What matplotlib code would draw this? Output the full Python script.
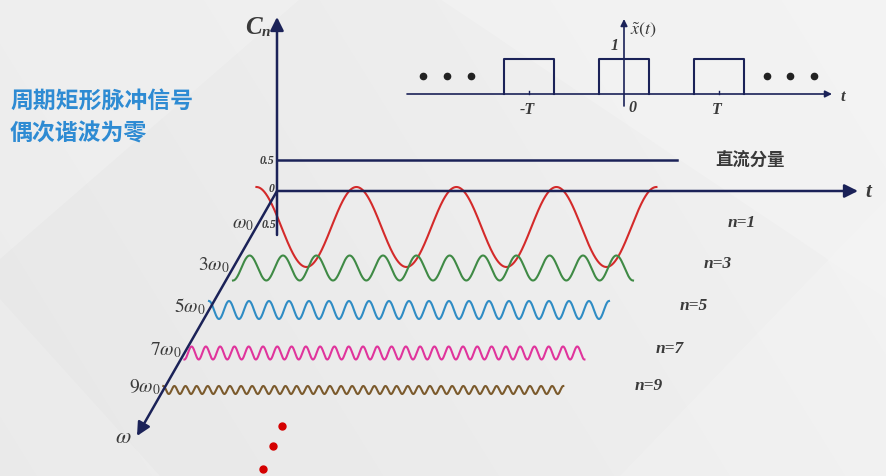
import numpy as np
import matplotlib.pyplot as plt
from matplotlib.patches import Polygon

plt.rcParams['mathtext.fontset'] = 'stix'

# data
harmonic_orders = [1, 3, 5, 7, 9]
harmonic_signs = [1, -1, 1, -1, 1]          # cos terms alternate in sign
harmonic_amps = [40, 12.5, 9, 6.5, 4]       # drawn amplitude
harmonic_depth = [36, 77, 119, 162, 199]    # offset along the omega axis
harmonic_colors = ['#d42a2a', '#3f8a45', '#2f8cc4', '#e0349c', '#7b5a2c']
freq_labels = [r'$\omega_0$', r'$3\omega_0$', r'$5\omega_0$', r'$7\omega_0$', r'$9\omega_0$']
n_labels = ['n=1', 'n=3', 'n=5', 'n=7', 'n=9']
periods_shown = 4
dc_value = 0.5

pulse_centers = [-1, 0, 1]   # in units of T
pulse_width = 0.52           # fraction of T
pulse_height = 1

navy = '#1b2258'
txt = '#3a3a3a'
serif = dict(family='Liberation Serif', style='italic', weight='bold', color=txt)

fig = plt.figure(figsize=(8.87, 4.77), dpi=100)
ax = fig.add_axes([0, 0, 1, 1])
ax.set_xlim(0, 887)
ax.set_ylim(477, 0)
ax.axis('off')

# background
gy, gx = np.mgrid[0:477, 0:887]
bg = 0.915 + 0.03 * (gx / 887) - 0.01 * (gy / 477)
ax.imshow(bg, cmap='gray', vmin=0, vmax=1, extent=[0, 887, 477, 0], zorder=0)
for pts, a in [([(0, 0), (300, 0), (0, 260)], 0.2),
               ([(440, 0), (887, 0), (887, 300)], 0.2),
               ([(620, 477), (887, 200), (887, 477)], 0.15),
               ([(0, 300), (160, 477), (0, 477)], 0.15)]:
    ax.add_patch(Polygon(pts, closed=True, facecolor='white', alpha=a, lw=0, zorder=0.5))

# title text
cjk = ['Noto Sans CJK SC', 'DejaVu Sans']
ax.text(10, 101, '周期矩形脉冲信号', family=cjk, weight='bold', fontsize=16.5,
        color='#2e8bd3', va='center')
ax.text(10, 134, '偶次谐波为零', family=cjk, weight='bold', fontsize=16.5,
        color='#2e8bd3', va='center')

# main 3D-like axes
ox, oy = 277, 192
px_per_unit = 62
om_tip = (137, 437)
slope = (om_tip[0] - ox) / (om_tip[1] - oy)

arrow = dict(arrowstyle='-|>', color=navy, lw=1.8, mutation_scale=20, shrinkA=0, shrinkB=0)
ax.annotate('', xy=(ox, 18), xytext=(ox, 236), arrowprops=arrow, zorder=3)
ax.annotate('', xy=(858, oy), xytext=(ox, oy), arrowprops=arrow, zorder=3)
ax.annotate('', xy=om_tip, xytext=(ox, oy), arrowprops=arrow, zorder=3)

# dc component
dc_y = oy - dc_value * px_per_unit
ax.plot([ox, 677], [dc_y, dc_y], color=navy, lw=1.8, zorder=3)
ax.text(715, dc_y, '直流分量', family=cjk, weight='bold', fontsize=12.5, color=txt, va='center')

ax.text(ox - 3, dc_y, '0.5', fontsize=8.5, ha='right', va='center', **serif)
ax.text(ox - 3, oy - 3, '0', fontsize=8.5, ha='right', va='center', **serif)
ax.text(ox - 1, oy + 33, '0.5', fontsize=8.5, ha='right', va='center', **serif)

ax.text(ox - 15, 27, 'C', fontsize=18, ha='right', va='center', **serif)
ax.text(ox - 15, 32, 'n', fontsize=11, ha='left', va='center', **serif)
ax.text(868, oy, 't', fontsize=15, ha='center', va='center', **serif)
ax.text(om_tip[0] - 14, om_tip[1], r'$\omega$', fontsize=16, ha='center', va='center', color=txt)

# harmonics
T0 = 100
for n, s, a, d, c, fl, nl in zip(harmonic_orders, harmonic_signs, harmonic_amps,
                                  harmonic_depth, harmonic_colors, freq_labels, n_labels):
    cy = oy + d
    x0 = ox + slope * d
    x = np.linspace(x0, x0 + periods_shown * T0, 2000)
    y = cy - s * a * np.cos(2 * np.pi * n * (x - x0) / T0)
    ax.plot(x, y, color=c, lw=1.5, zorder=2)
    ax.text(x0 - 3, cy - 4, fl, fontsize=14, ha='right', va='center', color=txt)
    ax.text(x0 + 485, cy - 5, nl, fontsize=12.5, ha='center', va='center', **serif)

# continuation dots
for d in [235, 255, 278]:
    ax.plot(ox + 5 - (d - 235) * 0.45, oy + d, 'o', color='#d40000', ms=5, zorder=3)

# inset: periodic rectangular pulse
ix, iy = 624, 95
T_px, h_px = 95, 35
thin = dict(arrowstyle='-|>', color=navy, lw=1.2, mutation_scale=10, shrinkA=0, shrinkB=0)
ax.annotate('', xy=(832, iy), xytext=(407, iy), arrowprops=thin, zorder=3)
ax.annotate('', xy=(ix, 20), xytext=(ix, 107), arrowprops=thin, zorder=3)
for pc in pulse_centers:
    xl = ix + (pc - pulse_width / 2) * T_px
    xr = ix + (pc + pulse_width / 2) * T_px
    yt = iy - pulse_height * h_px
    ax.plot([xl, xl, xr, xr], [iy, yt, yt, iy], color=navy, lw=1.5, zorder=3)
for pc, lab in [(-1, '-T'), (1, 'T')]:
    tx = ix + pc * T_px
    ax.plot([tx, tx], [iy, iy - 3], color=navy, lw=1)
    ax.text(tx - 2, iy + 15, lab, fontsize=11.5, ha='center', va='center', **serif)
ax.text(ix + 8, iy + 13, '0', fontsize=11.5, ha='center', va='center', **serif)
ax.text(ix - 9, iy - h_px - 14, '1', fontsize=11.5, ha='center', va='center', **serif)
ax.text(ix + 6, 30, r'$\tilde{x}(t)$', fontsize=13, ha='left', va='center', color=txt)
ax.text(843, iy + 2, 't', fontsize=12, ha='center', va='center', **serif)
for dx in [423, 447, 471, 767, 790, 814]:
    ax.plot(dx, 77, 'o', color='#222222', ms=4.5, zorder=3)

fig.savefig('out.png', dpi=100)
